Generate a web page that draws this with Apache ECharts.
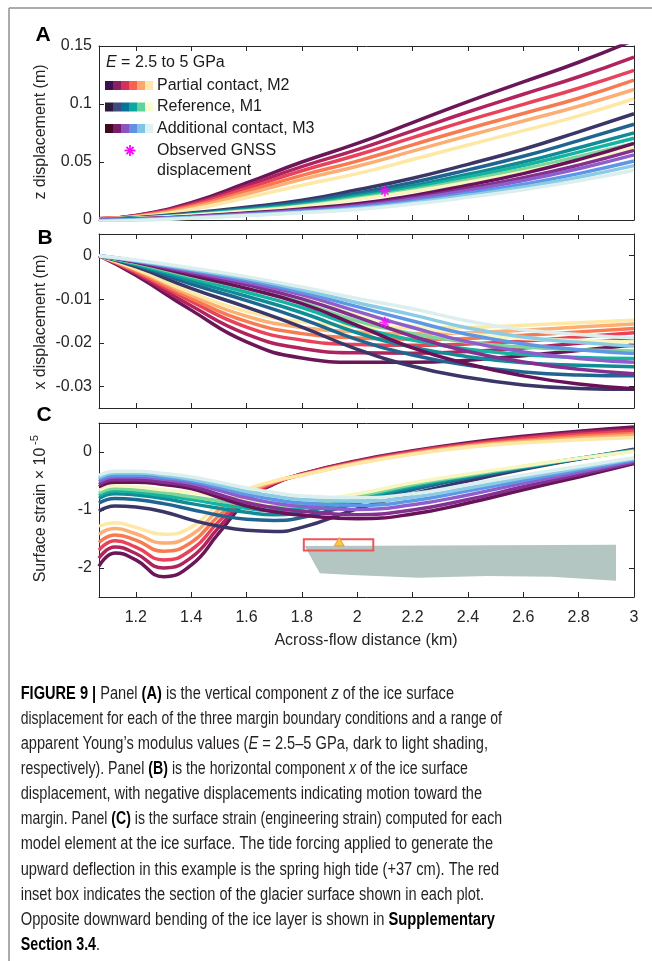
<!DOCTYPE html>
<html><head><meta charset="utf-8">
<script src="https://cdn.jsdelivr.net/npm/echarts@6.0.0/dist/echarts.min.js"></script>
<style>html,body{margin:0;padding:0;background:#fff}#c{width:652px;height:961px}</style>
</head><body><div id="c"></div>
<script>
// ---------- data ----------
const xKm  = [1.067, 1.2, 1.4, 1.6, 1.8, 2.0, 2.2, 2.4, 2.6, 2.8, 3.0];
const xKmC = [1.067, 1.125, 1.2, 1.3, 1.4, 1.5, 1.6, 1.7, 1.8, 2.0, 2.2, 2.4, 2.6, 2.8, 3.0];
const xTicks = [1.2, 1.4, 1.6, 1.8, 2, 2.2, 2.4, 2.6, 2.8, 3];
const zTicks = [0, 0.05, 0.1, 0.15];
const xdTicks = [-0.03, -0.02, -0.01, 0];
const sTicks = [-2, -1, 0];

// Panel A: z displacement (m), E = 2.5 ... 5 GPa (dark -> light)
const zM2 = [
  [0.001, 0.004, 0.015, 0.032, 0.050, 0.066, 0.084, 0.102, 0.119, 0.136, 0.155],
  [0.001, 0.0037, 0.0138, 0.0294, 0.046, 0.0607, 0.0769, 0.0931, 0.1084, 0.1235, 0.1405],
  [0.001, 0.0034, 0.0128, 0.0272, 0.0425, 0.056, 0.071, 0.0859, 0.0997, 0.1136, 0.129],
  [0.001, 0.0031, 0.0116, 0.0246, 0.0385, 0.0508, 0.0648, 0.0787, 0.0918, 0.105, 0.1205],
  [0.001, 0.0028, 0.0105, 0.0224, 0.035, 0.0463, 0.0594, 0.0726, 0.0853, 0.0981, 0.1125],
  [0.001, 0.0024, 0.009, 0.0192, 0.030, 0.040, 0.0521, 0.0647, 0.077, 0.0898, 0.1045]
];
const zM1 = [
  [0.0005, 0.002, 0.006, 0.011, 0.017, 0.026, 0.036, 0.048, 0.061, 0.076, 0.0916],
  [0.0005, 0.0018, 0.0054, 0.0099, 0.0153, 0.0234, 0.0324, 0.0432, 0.0549, 0.0684, 0.0825],
  [0.0004, 0.0016, 0.0049, 0.009, 0.0139, 0.0213, 0.0295, 0.0394, 0.05, 0.0623, 0.0751],
  [0.0004, 0.0015, 0.0046, 0.0085, 0.0131, 0.020, 0.0277, 0.037, 0.047, 0.0585, 0.0705],
  [0.0004, 0.0014, 0.0043, 0.0079, 0.0122, 0.0187, 0.0259, 0.0346, 0.0439, 0.0547, 0.066],
  [0.0003, 0.0014, 0.0041, 0.0075, 0.0116, 0.0177, 0.0245, 0.0326, 0.0415, 0.0517, 0.0623]
];
const zM3 = [
  [0.0003, 0.001, 0.003, 0.006, 0.0095, 0.014, 0.021, 0.030, 0.040, 0.052, 0.066],
  [0.0002, 0.0009, 0.0027, 0.0055, 0.0086, 0.0127, 0.0191, 0.0273, 0.0364, 0.0473, 0.060],
  [0.0, 0.0007, 0.0025, 0.0051, 0.0081, 0.0119, 0.0179, 0.0255, 0.034, 0.0442, 0.0561],
  [-0.0004, 0.0004, 0.0022, 0.0046, 0.0073, 0.0108, 0.0162, 0.0231, 0.0308, 0.040, 0.0508],
  [-0.0008, 0.0, 0.0019, 0.0042, 0.0067, 0.0099, 0.0149, 0.0213, 0.0284, 0.0369, 0.0469],
  [-0.0013, -0.0005, 0.0015, 0.0038, 0.0062, 0.0091, 0.0137, 0.0195, 0.026, 0.0338, 0.0429]
];

// Panel B: x displacement (m)
const xdM2 = [
  [0, -0.0045, -0.0125, -0.0198, -0.0235, -0.0245, -0.0245, -0.024, -0.023, -0.0218, -0.0205],
  [0, -0.0041, -0.0115, -0.018, -0.0213, -0.0223, -0.0224, -0.022, -0.0212, -0.0201, -0.019],
  [0, -0.0038, -0.0105, -0.0164, -0.0194, -0.0204, -0.0206, -0.0203, -0.0196, -0.0187, -0.0177],
  [0, -0.0035, -0.0098, -0.0151, -0.0179, -0.0189, -0.0192, -0.019, -0.0183, -0.0175, -0.0167],
  [0, -0.0032, -0.0091, -0.0139, -0.0165, -0.0175, -0.0179, -0.0177, -0.0171, -0.0164, -0.0157],
  [0, -0.003, -0.0085, -0.0128, -0.0152, -0.0162, -0.0166, -0.0165, -0.016, -0.0154, -0.0148]
];
const xdM1 = [
  [0, -0.0025, -0.0075, -0.0118, -0.0164, -0.0215, -0.0254, -0.028, -0.0297, -0.0305, -0.0307],
  [0, -0.0022, -0.0065, -0.0103, -0.0145, -0.0193, -0.0228, -0.0252, -0.0267, -0.0274, -0.0276],
  [0, -0.002, -0.0058, -0.0093, -0.0131, -0.0177, -0.021, -0.0232, -0.0246, -0.0252, -0.0255],
  [0, -0.0019, -0.0052, -0.0084, -0.0119, -0.0163, -0.0194, -0.0215, -0.0227, -0.0234, -0.0236],
  [0, -0.0017, -0.0047, -0.0075, -0.0108, -0.015, -0.0179, -0.0199, -0.021, -0.0216, -0.0219],
  [0, -0.0015, -0.004, -0.0065, -0.0095, -0.0135, -0.0162, -0.018, -0.019, -0.0195, -0.0198]
];
const xdM3 = [
  [0, -0.0015, -0.0045, -0.0075, -0.011, -0.016, -0.0212, -0.0249, -0.0276, -0.0295, -0.0306],
  [0, -0.0014, -0.004, -0.0067, -0.0099, -0.0141, -0.0185, -0.022, -0.0244, -0.0261, -0.0271],
  [0, -0.0012, -0.0036, -0.0061, -0.009, -0.0128, -0.0165, -0.0198, -0.0221, -0.0236, -0.0245],
  [0, -0.0012, -0.0033, -0.0056, -0.0084, -0.0117, -0.015, -0.0181, -0.0203, -0.0216, -0.0225],
  [0, -0.0011, -0.0031, -0.0052, -0.0078, -0.0108, -0.0136, -0.0166, -0.0187, -0.0199, -0.0208],
  [0, -0.001, -0.0028, -0.0048, -0.0072, -0.0098, -0.0122, -0.015, -0.017, -0.0181, -0.0189]
];

// Panel C: surface strain (x 1e-5)
const sM2 = [
  [-1.97, -1.74, -1.86, -2.15, -1.95, -1.40, -0.85, -0.55, -0.38, -0.15, 0.02, 0.16, 0.27, 0.36, 0.43],
  [-1.83, -1.64, -1.75, -2.00, -1.82, -1.30, -0.81, -0.54, -0.38, -0.16, 0.01, 0.14, 0.25, 0.33, 0.39],
  [-1.69, -1.53, -1.64, -1.86, -1.69, -1.20, -0.77, -0.53, -0.39, -0.17, 0.0, 0.13, 0.23, 0.30, 0.36],
  [-1.56, -1.43, -1.52, -1.71, -1.56, -1.10, -0.73, -0.52, -0.39, -0.18, -0.02, 0.11, 0.20, 0.27, 0.32],
  [-1.42, -1.32, -1.41, -1.57, -1.43, -1.00, -0.69, -0.51, -0.40, -0.19, -0.03, 0.10, 0.18, 0.24, 0.29],
  [-1.28, -1.22, -1.30, -1.42, -1.30, -0.90, -0.65, -0.50, -0.40, -0.20, -0.04, 0.08, 0.16, 0.21, 0.25]
];
const sM1 = [
  [-1.02, -0.93, -0.95, -1.03, -1.17, -1.28, -1.35, -1.37, -1.30, -0.98, -0.72, -0.50, -0.30, -0.12, 0.05],
  [-0.88, -0.80, -0.82, -0.89, -0.99, -1.09, -1.16, -1.18, -1.13, -0.88, -0.65, -0.45, -0.28, -0.12, 0.035],
  [-0.80, -0.72, -0.74, -0.80, -0.89, -0.97, -1.04, -1.08, -1.04, -0.82, -0.61, -0.43, -0.26, -0.11, 0.026],
  [-0.75, -0.67, -0.69, -0.75, -0.82, -0.90, -0.97, -1.01, -0.97, -0.79, -0.58, -0.41, -0.26, -0.11, 0.02],
  [-0.71, -0.63, -0.65, -0.70, -0.77, -0.84, -0.91, -0.95, -0.92, -0.76, -0.56, -0.40, -0.25, -0.11, 0.016],
  [-0.66, -0.58, -0.60, -0.65, -0.70, -0.77, -0.84, -0.88, -0.86, -0.72, -0.53, -0.38, -0.24, -0.11, 0.01]
];
const sM3 = [
  [-0.60, -0.52, -0.52, -0.56, -0.63, -0.78, -0.93, -1.03, -1.09, -1.15, -1.07, -0.88, -0.65, -0.43, -0.20],
  [-0.56, -0.48, -0.48, -0.52, -0.59, -0.73, -0.87, -0.96, -1.02, -1.08, -1.00, -0.82, -0.60, -0.39, -0.18],
  [-0.51, -0.43, -0.43, -0.47, -0.54, -0.66, -0.79, -0.88, -0.94, -0.99, -0.91, -0.74, -0.54, -0.35, -0.155],
  [-0.47, -0.40, -0.40, -0.44, -0.50, -0.61, -0.73, -0.82, -0.88, -0.92, -0.84, -0.67, -0.49, -0.31, -0.135],
  [-0.44, -0.36, -0.36, -0.40, -0.47, -0.57, -0.68, -0.76, -0.82, -0.85, -0.78, -0.62, -0.445, -0.28, -0.118],
  [-0.40, -0.33, -0.33, -0.37, -0.43, -0.52, -0.62, -0.70, -0.76, -0.79, -0.72, -0.56, -0.40, -0.25, -0.10]
];

// observed GNSS displacement
const gnssX = [2.1];
const gnssZ = [0.025];
const gnssXd = [-0.0153];

// inset (glacier section sketch in panel C coordinates)
const glacierX = [1.81, 2.935, 2.935, 2.7, 2.47, 2.22, 1.98, 1.865];
const glacierY = [-1.62, -1.60, -2.22, -2.15, -2.14, -2.17, -2.12, -2.09];
const insetBoxX = [1.807, 2.058];
const insetBoxY = [-1.505, -1.70];
const triX = [1.917, 1.935, 1.953];
const triY = [-1.62, -1.475, -1.62];

// colours
const lineM2 = ['#6b1658', '#b0245e', '#e8435a', '#f87a50', '#fcae74', '#fde8a6'];
const lineM1 = ['#3a3668', '#1f6590', '#108c96', '#14b4a0', '#7dd59c', '#f8f6c0'];
const lineM3 = ['#6a1259', '#83308f', '#8e5ecd', '#5d97e5', '#8bcbe4', '#dcefef'];
const swM2 = ['#3b0f50', '#8c1d62', '#d3305b', '#f8624c', '#fca66d', '#fde8b0'];
const swM1 = ['#2d1b3a', '#3e4a82', '#05729a', '#0ba8a0', '#5fd49c', '#fcfbd0'];
const swM3 = ['#3f0a22', '#7b1c6b', '#8a55c2', '#6390e3', '#80c6e3', '#e0f1f1'];

const legendLabels = ['Partial contact, M2', 'Reference, M1', 'Additional contact, M3'];

// ---------- chart ----------
const FF = '"Liberation Sans", Arial, Helvetica, sans-serif';
const AX = '#262626';
const X_MIN = 1.067, X_MAX = 3;
// asterisk marker outline (unit box 20x20)
const STAR_POLYS = [
  [[8.4, 0], [11.6, 0], [11.6, 20], [8.4, 20]],
  [[0, 8.4], [20, 8.4], [20, 11.6], [0, 11.6]],
  [[4.63, 2.37], [17.63, 15.37], [15.37, 17.63], [2.37, 4.63]],
  [[15.37, 2.37], [17.63, 4.63], [4.63, 17.63], [2.37, 15.37]]
];
const STAR = 'path://' + STAR_POLYS.map(p => 'M' + p.map(q => q[0] + ',' + q[1]).join('L') + 'Z').join(' ');

const grids = [
  {left: 99, top: 46, width: 535, height: 174},
  {left: 99, top: 234, width: 535, height: 174},
  {left: 99, top: 423, width: 535, height: 174}
].map(g => Object.assign({containLabel: false, outerBoundsMode: 'none'}, g));

const xAxis = [], yAxis = [];
function addAxes(g, ymin, ymax, yt, showX) {
  const line = {show: true, onZero: false, lineStyle: {color: AX, width: 1}};
  const lab = {color: AX, fontSize: 16, fontFamily: FF};
  xAxis.push({type: 'value', gridIndex: g, min: X_MIN, max: X_MAX, position: 'bottom',
    axisLine: line, splitLine: {show: false},
    axisTick: {show: true, inside: true, length: 5, customValues: xTicks, lineStyle: {color: AX}},
    axisLabel: Object.assign({show: showX, customValues: xTicks, margin: 13}, lab)});
  xAxis.push({type: 'value', gridIndex: g, min: X_MIN, max: X_MAX, position: 'top',
    axisLine: line, splitLine: {show: false},
    axisTick: {show: true, inside: true, length: 5, customValues: xTicks, lineStyle: {color: AX}},
    axisLabel: {show: false}});
  yAxis.push({type: 'value', gridIndex: g, min: ymin, max: ymax, position: 'left',
    axisLine: line, splitLine: {show: false},
    axisTick: {show: true, inside: true, length: 5, customValues: yt, lineStyle: {color: AX}},
    axisLabel: Object.assign({show: true, customValues: yt, margin: 7}, lab)});
  yAxis.push({type: 'value', gridIndex: g, min: ymin, max: ymax, position: 'right',
    axisLine: line, splitLine: {show: false},
    axisTick: {show: true, inside: true, length: 5, customValues: yt, lineStyle: {color: AX}},
    axisLabel: {show: false}});
}
addAxes(0, 0, 0.15, zTicks, false);
addAxes(1, -0.035, 0.005, xdTicks, false);
addAxes(2, -2.5, 0.5, sTicks, true);

const series = [];
function addGroup(g, xs, group, colors) {
  group.forEach((ys, k) => {
    series.push({type: 'line', xAxisIndex: 2 * g, yAxisIndex: 2 * g,
      data: xs.map((x, i) => [x, ys[i]]), smooth: 0.5,
      showSymbol: false, symbol: 'none', clip: true, silent: true, z: 2,
      lineStyle: {width: 3.5, color: colors[k]}, itemStyle: {color: colors[k]}});
  });
}
addGroup(0, xKm, zM2, lineM2); addGroup(0, xKm, zM1, lineM1); addGroup(0, xKm, zM3, lineM3);
addGroup(1, xKm, xdM2, lineM2); addGroup(1, xKm, xdM1, lineM1); addGroup(1, xKm, xdM3, lineM3);
addGroup(2, xKmC, sM2, lineM2); addGroup(2, xKmC, sM1, lineM1); addGroup(2, xKmC, sM3, lineM3);

series.push({type: 'scatter', xAxisIndex: 0, yAxisIndex: 0, symbol: STAR, symbolSize: 11, z: 5, silent: true,
  itemStyle: {color: '#ff00ff'}, data: gnssX.map((x, i) => [x, gnssZ[i]])});
series.push({type: 'scatter', xAxisIndex: 2, yAxisIndex: 2, symbol: STAR, symbolSize: 11, z: 5, silent: true,
  itemStyle: {color: '#ff00ff'}, data: gnssX.map((x, i) => [x, gnssXd[i]])});

series.push({type: 'custom', xAxisIndex: 4, yAxisIndex: 4, data: [0], z: 1, silent: true,
  renderItem: function (p, api) {
    const poly = glacierX.map((x, i) => api.coord([x, glacierY[i]]));
    const b0 = api.coord([insetBoxX[0], insetBoxY[0]]);
    const b1 = api.coord([insetBoxX[1], insetBoxY[1]]);
    const tri = triX.map((x, i) => api.coord([x, triY[i]]));
    return {type: 'group', children: [
      {type: 'polygon', shape: {points: poly}, style: {fill: '#b3c6c2'}},
      {type: 'rect', shape: {x: b0[0], y: b0[1], width: b1[0] - b0[0], height: b1[1] - b0[1]},
        style: {fill: 'none', stroke: '#f0555a', lineWidth: 2}},
      {type: 'polygon', shape: {points: tri}, style: {fill: '#f7c948', stroke: '#f09a30', lineWidth: 1}}
    ]};
  }});

// ---------- graphics (labels, legend, caption) ----------
const graphic = [];
graphic.push({type: 'line', shape: {x1: 9, y1: 8, x2: 652, y2: 8}, style: {stroke: '#8f8f8f', lineWidth: 1.5}, silent: true});
graphic.push({type: 'line', shape: {x1: 9, y1: 8, x2: 9, y2: 961}, style: {stroke: '#8f8f8f', lineWidth: 1.5}, silent: true});

function txt(x, y, text, opt) {
  graphic.push(Object.assign({type: 'text', x: x, y: y, silent: true,
    style: Object.assign({text: text, fill: AX, fontSize: 16, fontFamily: FF, align: 'left', verticalAlign: 'middle'}, opt && opt.style)},
    opt && opt.el));
}
txt(43, 35, 'A', {style: {fontSize: 21, fontWeight: 'bold', fill: '#000', align: 'center'}});
txt(45, 238, 'B', {style: {fontSize: 21, fontWeight: 'bold', fill: '#000', align: 'center'}});
txt(44, 415, 'C', {style: {fontSize: 21, fontWeight: 'bold', fill: '#000', align: 'center'}});

txt(41, 132, 'z displacement (m)', {style: {align: 'center'}, el: {rotation: Math.PI / 2}});
txt(41, 322, 'x displacement (m)', {style: {align: 'center'}, el: {rotation: Math.PI / 2}});
txt(41, 515, 'Surface strain × 10', {style: {align: 'center'}, el: {rotation: Math.PI / 2}});
txt(35, 440, '-5', {style: {align: 'center', fontSize: 11}, el: {rotation: Math.PI / 2}});
txt(366, 641, 'Across-flow distance (km)', {style: {align: 'center'}});

// legend
txt(106, 63, '{i|E}{r| = 2.5 to 5 GPa}', {style: {fill: '#1a1a1a', rich: {
  i: {fontStyle: 'italic', fontSize: 16, fontFamily: FF, fill: '#1a1a1a'},
  r: {fontSize: 16, fontFamily: FF, fill: '#1a1a1a'}}}});
const swRows = [swM2, swM1, swM3];
const swTop = [81, 102.5, 124];
swRows.forEach((cols, r) => {
  cols.forEach((c, k) => {
    graphic.push({type: 'rect', silent: true, shape: {x: 105 + k * 8, y: swTop[r], width: 8.2, height: 9}, style: {fill: c}});
  });
  txt(157, swTop[r] + 4.5, legendLabels[r], {style: {fill: '#1a1a1a'}});
});
const starS = 11 / 20, starX0 = 124.5, starY0 = 145;
STAR_POLYS.forEach(p => {
  graphic.push({type: 'polygon', silent: true,
    shape: {points: p.map(q => [starX0 + q[0] * starS, starY0 + q[1] * starS])}, style: {fill: '#ff00ff'}});
});
txt(157, 151, 'Observed GNSS', {style: {fill: '#1a1a1a'}});
txt(157, 171, 'displacement', {style: {fill: '#1a1a1a'}});

// caption
const captionLines = [
  [['FIGURE 9 | ', 'b'], ['Panel ', 'r'], ['(A)', 'b'], [' is the vertical component ', 'r'], ['z', 'i'], [' of the ice surface', 'r']],
  [['displacement for each of the three margin boundary conditions and a range of', 'r']],
  [['apparent Young’s modulus values (', 'r'], ['E', 'i'], [' = 2.5–5 GPa, dark to light shading,', 'r']],
  [['respectively). Panel ', 'r'], ['(B)', 'b'], [' is the horizontal component ', 'r'], ['x', 'i'], [' of the ice surface', 'r']],
  [['displacement, with negative displacements indicating motion toward the', 'r']],
  [['margin. Panel ', 'r'], ['(C)', 'b'], [' is the surface strain (engineering strain) computed for each', 'r']],
  [['model element at the ice surface. The tide forcing applied to generate the', 'r']],
  [['upward deflection in this example is the spring high tide (+37 cm). The red', 'r']],
  [['inset box indicates the section of the glacier surface shown in each plot.', 'r']],
  [['Opposite downward bending of the ice layer is shown in ', 'r'], ['Supplementary', 'b']],
  [['Section 3.4', 'b'], ['.', 'r']]
];
const capRight = [454, 502, 488, 468, 482, 502, 493, 499, 484, 495, 100];
const CAP_FS = 17.5, CAP_L = 20.7, CAP_Y0 = 694, CAP_DY = 25.1;
const CAPF = '"Liberation Sans", Arial, sans-serif';
const mctx = document.createElement('canvas').getContext('2d');
function segFont(st) {
  return (st === 'i' ? 'italic ' : '') + (st === 'b' ? 'bold ' : '') + CAP_FS + 'px ' + CAPF;
}
const capRich = {
  r: {fontSize: CAP_FS, fontFamily: CAPF, fill: '#231f20'},
  b: {fontSize: CAP_FS, fontFamily: CAPF, fontWeight: 'bold', fill: '#000'},
  i: {fontSize: CAP_FS, fontFamily: CAPF, fontStyle: 'italic', fill: '#231f20'}
};
captionLines.forEach((segs, n) => {
  let w = 0;
  segs.forEach(s => { mctx.font = segFont(s[1]); w += mctx.measureText(s[0]).width; });
  const sx = (capRight[n] - CAP_L) / w;
  const str = segs.map(s => '{' + s[1] + '|' + s[0] + '}').join('');
  graphic.push({type: 'text', silent: true, x: CAP_L, y: CAP_Y0 + n * CAP_DY, scaleX: sx,
    style: {text: str, rich: capRich, fontSize: CAP_FS, fontFamily: CAPF, fill: '#231f20', align: 'left', verticalAlign: 'middle'}});
});

const chart = echarts.init(document.getElementById('c'), null, {renderer: 'canvas', width: 652, height: 961});
chart.setOption({
  animation: false,
  backgroundColor: '#fff',
  grid: grids,
  xAxis: xAxis,
  yAxis: yAxis,
  series: series,
  graphic: graphic
});
</script></body></html>
